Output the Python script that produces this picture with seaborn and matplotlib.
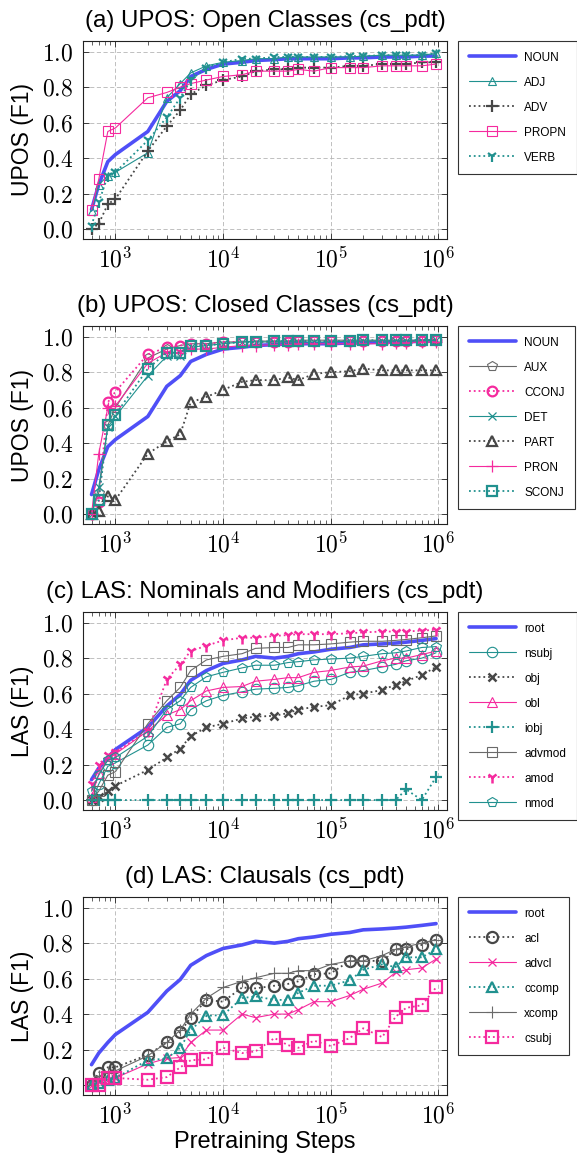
import numpy as np
import pandas as pd
import matplotlib
matplotlib.use("Agg")
import matplotlib.pyplot as plt
import seaborn as sns
from matplotlib.ticker import FixedLocator, FuncFormatter, LogLocator, NullFormatter

# checkpoints (pretraining steps)
steps = [600, 700, 850, 1000, 2000, 3000, 4000, 5000, 7000, 10000, 15000, 20000,
         30000, 40000, 50000, 70000, 100000, 150000, 200000, 300000, 400000,
         500000, 700000, 950000]

# (a) UPOS open classes
noun = [0.11, 0.25, 0.38, 0.42, 0.55, 0.72, 0.78, 0.86, 0.90, 0.93, 0.94, 0.95,
        0.955, 0.96, 0.96, 0.96, 0.96, 0.965, 0.965, 0.97, 0.97, 0.97, 0.975, 0.975]
adj = [0.10, 0.25, 0.30, 0.32, 0.43, 0.74, 0.82, 0.88, 0.92, 0.94, 0.95, 0.96,
       0.96, 0.97, 0.97, 0.97, 0.97, 0.97, 0.975, 0.98, 0.98, 0.98, 0.98, 0.99]
adv = [0.0, 0.03, 0.14, 0.17, 0.44, 0.58, 0.67, 0.76, 0.81, 0.84, 0.86, 0.89,
       0.90, 0.90, 0.91, 0.91, 0.91, 0.92, 0.92, 0.93, 0.93, 0.93, 0.94, 0.94]
propn = [0.11, 0.28, 0.55, 0.57, 0.74, 0.77, 0.80, 0.82, 0.84, 0.86, 0.87, 0.89,
         0.89, 0.89, 0.90, 0.89, 0.91, 0.91, 0.91, 0.92, 0.92, 0.92, 0.92, 0.93]
verb = [0.02, 0.15, 0.30, 0.32, 0.50, 0.63, 0.74, 0.84, 0.91, 0.94, 0.96, 0.96,
        0.97, 0.97, 0.97, 0.97, 0.97, 0.975, 0.975, 0.98, 0.98, 0.98, 0.98, 0.99]

# (b) UPOS closed classes
aux = [0.0, 0.12, 0.50, 0.60, 0.88, 0.93, 0.95, 0.96, 0.96, 0.97, 0.97, 0.975,
       0.975, 0.975, 0.98, 0.98, 0.98, 0.98, 0.98, 0.98, 0.98, 0.98, 0.98, 0.985]
cconj = [0.0, 0.07, 0.63, 0.69, 0.90, 0.94, 0.95, 0.96, 0.96, 0.97, 0.97, 0.97,
         0.97, 0.97, 0.975, 0.975, 0.975, 0.975, 0.975, 0.975, 0.975, 0.975, 0.975, 0.98]
det = [0.0, 0.15, 0.49, 0.55, 0.78, 0.89, 0.89, 0.94, 0.95, 0.96, 0.97, 0.97,
       0.97, 0.97, 0.97, 0.97, 0.97, 0.975, 0.975, 0.975, 0.975, 0.975, 0.975, 0.98]
part = [0.0, 0.02, 0.10, 0.08, 0.34, 0.41, 0.45, 0.63, 0.66, 0.70, 0.745, 0.755,
        0.755, 0.77, 0.755, 0.79, 0.80, 0.805, 0.82, 0.81, 0.81, 0.81, 0.81, 0.81]
pron = [0.0, 0.34, 0.60, 0.61, 0.85, 0.91, 0.91, 0.93, 0.93, 0.94, 0.95, 0.95,
        0.955, 0.955, 0.96, 0.96, 0.96, 0.96, 0.96, 0.96, 0.965, 0.965, 0.97, 0.97]
sconj = [0.0, 0.08, 0.50, 0.56, 0.82, 0.91, 0.91, 0.95, 0.95, 0.96, 0.97, 0.97,
         0.975, 0.975, 0.975, 0.975, 0.975, 0.975, 0.98, 0.98, 0.98, 0.98, 0.98, 0.98]

# (c) LAS nominals and modifiers
root = [0.115, 0.18, 0.24, 0.285, 0.41, 0.53, 0.595, 0.675, 0.73, 0.77, 0.79, 0.81,
        0.80, 0.81, 0.825, 0.835, 0.85, 0.86, 0.875, 0.88, 0.885, 0.89, 0.90, 0.91]
nsubj = [0.0, 0.09, 0.19, 0.21, 0.31, 0.41, 0.43, 0.51, 0.56, 0.59, 0.61, 0.625,
         0.63, 0.635, 0.645, 0.67, 0.68, 0.72, 0.73, 0.75, 0.765, 0.785, 0.80, 0.83]
obj = [0.0, 0.02, 0.05, 0.08, 0.17, 0.24, 0.29, 0.36, 0.41, 0.43, 0.46, 0.47,
       0.475, 0.49, 0.51, 0.525, 0.535, 0.59, 0.60, 0.62, 0.65, 0.67, 0.705, 0.75]
obl = [0.015, 0.15, 0.23, 0.26, 0.39, 0.48, 0.51, 0.56, 0.615, 0.635, 0.64, 0.67,
       0.68, 0.69, 0.69, 0.72, 0.73, 0.75, 0.755, 0.785, 0.80, 0.80, 0.82, 0.84]
iobj = [0.0, 0.0, 0.0, 0.0, 0.0, 0.0, 0.0, 0.0, 0.0, 0.0, 0.0, 0.0,
        0.0, 0.0, 0.0, 0.0, 0.0, 0.0, 0.0, 0.0, 0.0, 0.06, 0.0, 0.13]
advmod = [0.0, 0.05, 0.14, 0.16, 0.43, 0.56, 0.635, 0.73, 0.79, 0.81, 0.825, 0.855,
          0.86, 0.86, 0.875, 0.875, 0.88, 0.89, 0.895, 0.895, 0.90, 0.905, 0.915, 0.925]
amod = [0.09, 0.20, 0.255, 0.27, 0.39, 0.68, 0.765, 0.84, 0.87, 0.90, 0.915, 0.915,
        0.925, 0.93, 0.935, 0.935, 0.935, 0.94, 0.945, 0.95, 0.95, 0.95, 0.955, 0.96]
nmod = [0.05, 0.14, 0.225, 0.24, 0.36, 0.51, 0.56, 0.635, 0.695, 0.72, 0.745, 0.76,
        0.76, 0.775, 0.78, 0.79, 0.795, 0.80, 0.81, 0.825, 0.83, 0.84, 0.86, 0.865]

# (d) LAS clausals
acl = [0.0, 0.07, 0.10, 0.10, 0.17, 0.24, 0.30, 0.38, 0.48, 0.47, 0.55, 0.545,
       0.56, 0.57, 0.585, 0.625, 0.63, 0.70, 0.70, 0.70, 0.765, 0.765, 0.79, 0.82]
advcl = [0.0, 0.02, 0.03, 0.04, 0.12, 0.15, 0.155, 0.24, 0.31, 0.31, 0.40, 0.38,
         0.40, 0.40, 0.425, 0.47, 0.47, 0.505, 0.54, 0.575, 0.635, 0.65, 0.66, 0.71]
ccomp = [0.0, 0.01, 0.03, 0.04, 0.14, 0.15, 0.21, 0.31, 0.39, 0.395, 0.49, 0.50,
         0.48, 0.48, 0.52, 0.56, 0.56, 0.59, 0.65, 0.68, 0.665, 0.72, 0.72, 0.765]
xcomp = [0.0, 0.05, 0.07, 0.08, 0.165, 0.24, 0.31, 0.40, 0.49, 0.55, 0.585, 0.605,
         0.63, 0.63, 0.645, 0.645, 0.68, 0.70, 0.70, 0.73, 0.765, 0.78, 0.80, 0.82]
csubj = [0.0, 0.0, 0.04, 0.04, 0.03, 0.045, 0.10, 0.14, 0.145, 0.21, 0.18, 0.19,
         0.265, 0.225, 0.21, 0.25, 0.22, 0.265, 0.32, 0.27, 0.385, 0.435, 0.45, 0.55]

BLUE = "#4f4ff7"
TEAL = "#21918f"
PINK = "#f52a9e"
DGRAY = "#474747"
LGRAY = "#6a6a6a"


def style(color, marker, ls, lw, ms, mew):
    return dict(color=color, marker=marker, ls=ls, lw=lw, ms=ms, mew=mew)


panels = [
    ("(a) UPOS: Open Classes (cs_pdt)", "UPOS (F1)", [
        ("NOUN", noun, style(BLUE, None, "-", 2.6, 0, 0)),
        ("ADJ", adj, style(TEAL, "^", "-", 0.8, 6, 0.8)),
        ("ADV", adv, style(DGRAY, "+", ":", 1.3, 8, 1.6)),
        ("PROPN", propn, style(PINK, "s", "-", 0.8, 7.5, 0.8)),
        ("VERB", verb, style(TEAL, "1", ":", 1.3, 8, 1.6)),
    ]),
    ("(b) UPOS: Closed Classes (cs_pdt)", "UPOS (F1)", [
        ("NOUN", noun, style(BLUE, None, "-", 2.6, 0, 0)),
        ("AUX", aux, style(LGRAY, "p", "-", 0.8, 7, 0.8)),
        ("CCONJ", cconj, style(PINK, "o", ":", 1.3, 7, 1.6)),
        ("DET", det, style(TEAL, "x", "-", 0.8, 6, 0.9)),
        ("PART", part, style(DGRAY, "^", ":", 1.3, 6.5, 1.6)),
        ("PRON", pron, style(PINK, "+", "-", 0.8, 8, 0.9)),
        ("SCONJ", sconj, style(TEAL, "s", ":", 1.3, 7, 1.6)),
    ]),
    ("(c) LAS: Nominals and Modifiers (cs_pdt)", "LAS (F1)", [
        ("root", root, style(BLUE, None, "-", 2.6, 0, 0)),
        ("nsubj", nsubj, style(TEAL, "o", "-", 0.8, 7.5, 0.8)),
        ("obj", obj, style(DGRAY, "x", ":", 1.3, 6, 1.8)),
        ("obl", obl, style(PINK, "^", "-", 0.8, 6.5, 0.8)),
        ("iobj", iobj, style(TEAL, "+", ":", 1.3, 8, 1.6)),
        ("advmod", advmod, style(LGRAY, "s", "-", 0.8, 7.5, 0.8)),
        ("amod", amod, style(PINK, "1", ":", 1.3, 8, 1.8)),
        ("nmod", nmod, style(TEAL, "p", "-", 0.8, 7.5, 0.8)),
    ]),
    ("(d) LAS: Clausals (cs_pdt)", "LAS (F1)", [
        ("root", root, style(BLUE, None, "-", 2.6, 0, 0)),
        ("acl", acl, style(DGRAY, "o", ":", 1.3, 8, 1.6)),
        ("advcl", advcl, style(PINK, "x", "-", 0.8, 6, 0.9)),
        ("ccomp", ccomp, style(TEAL, "^", ":", 1.3, 7, 1.6)),
        ("xcomp", xcomp, style(LGRAY, "+", "-", 0.8, 9, 0.8)),
        ("csubj", csubj, style(PINK, "s", ":", 1.3, 8, 1.6)),
    ]),
]

sns.set_theme(style="white")
plt.rcParams["font.family"] = ["Liberation Sans", "DejaVu Sans"]
plt.rcParams["mathtext.fontset"] = "cm"
plt.rcParams["text.color"] = "black"
plt.rcParams["axes.labelcolor"] = "black"

W, H = 577, 1160
fig = plt.figure(figsize=(W / 100, H / 100), dpi=100)

ax_tops = [41, 326, 612, 897]
ax_h = 198
ax_left, ax_right = 83, 447

for i, (title, ylabel, series) in enumerate(panels):
    top = ax_tops[i]
    ax = fig.add_axes([ax_left / W, 1 - (top + ax_h) / H,
                       (ax_right - ax_left) / W, ax_h / H])
    for name, vals, st in series:
        df = pd.DataFrame({"step": steps, "f1": vals})
        kw = dict(color=st["color"], lw=st["lw"], ls=st["ls"], label=name)
        if st["marker"]:
            filled = st["marker"] in ("+", "x", "1")
            kw.update(marker=st["marker"], markersize=st["ms"],
                      markeredgewidth=st["mew"], markeredgecolor=st["color"],
                      markerfacecolor=st["color"] if filled else "none")
        sns.lineplot(data=df, x="step", y="f1", ax=ax, estimator=None,
                     errorbar=None, sort=False, **kw)

    ax.set_xscale("log")
    ax.set_xlim(500, 1.2e6)
    ax.set_ylim(-0.056, 1.06)
    ax.xaxis.set_major_locator(FixedLocator([1e3, 1e4, 1e5, 1e6]))
    ax.xaxis.set_major_formatter(FuncFormatter(lambda v, p: f"$10^{{{int(round(np.log10(v)))}}}$"))
    ax.xaxis.set_minor_locator(LogLocator(base=10, subs=np.arange(2, 10)))
    ax.xaxis.set_minor_formatter(NullFormatter())
    ax.yaxis.set_major_locator(FixedLocator([0.0, 0.2, 0.4, 0.6, 0.8, 1.0]))
    ax.yaxis.set_major_formatter(FuncFormatter(lambda v, p: f"${v:.1f}$"))
    ax.tick_params(axis="both", which="both", direction="in", top=True, right=True,
                   bottom=True, left=True, colors="#222", labelcolor="black")
    ax.tick_params(axis="both", which="major", length=4.5, width=0.6, labelsize=17)
    ax.tick_params(axis="y", which="major", pad=7)
    ax.tick_params(axis="x", which="major", pad=6)
    ax.tick_params(axis="x", which="minor", length=3, width=0.5)
    ax.grid(True, which="major", ls=(0, (5, 3)), color="#b5b5b5", lw=0.6)
    ax.set_axisbelow(True)
    for sp in ax.spines.values():
        sp.set_color("#222")
        sp.set_linewidth(0.8)

    ax.set_title(title, fontsize=17.3, pad=10, color="black")
    ax.set_ylabel(ylabel, fontsize=16.5, labelpad=6)
    if i == 3:
        ax.set_xlabel("Pretraining Steps", fontsize=17, labelpad=2)
    else:
        ax.set_xlabel("")

    ax.legend(loc="upper left", bbox_to_anchor=(458 / W, 1 - top / H),
              bbox_transform=fig.transFigure, borderaxespad=0, frameon=True,
              fancybox=False, edgecolor="#333", framealpha=1, fontsize=8.5,
              handlelength=4.0, handletextpad=0.7, labelspacing=1.1,
              borderpad=0.9, numpoints=1)
    ax.get_legend().get_frame().set_linewidth(0.8)

fig.savefig("out.png", dpi=100)
